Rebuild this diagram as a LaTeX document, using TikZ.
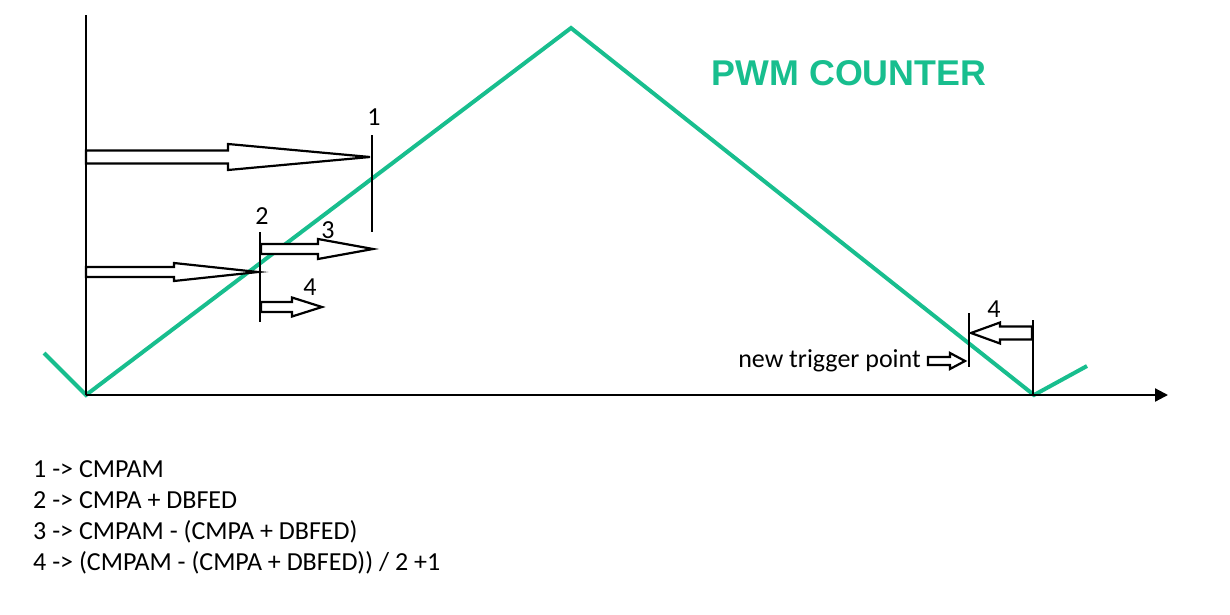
\documentclass[tikz,border=0pt]{standalone}
\usepackage{fontspec}
\setmainfont{Carlito}
\newfontfamily\titlefont{Liberation Sans}
\usepackage{xcolor}
\usepackage{tikz}
\usetikzlibrary{arrows.meta,positioning,calc}

\definecolor{pwmgreen}{RGB}{24,190,142}

% outlined arrow: start x, tip x, y, shaft half width, head half width, head start x
\newcommand{\hollowarrow}[6]{%
  \draw[hollowarr] (#1,{#3-#4}) -- (#6,{#3-#4}) -- (#6,{#3-#5}) -- (#2,#3)
    -- (#6,{#3+#5}) -- (#6,{#3+#4}) -- (#1,{#3+#4}) -- cycle;}

\begin{document}
\begin{tikzpicture}[x=1pt,y=-1pt,
    hollowarr/.style={draw=black,line width=2.2pt,fill=white,line join=miter},
    markline/.style={line width=2.2pt},
    lbl/.style={inner sep=0pt,font=\fontsize{26}{26}\selectfont}]
  \useasboundingbox (0,0) rectangle (1230,615);

  \coordinate (origin) at (86,395);
  \coordinate (ytop) at (86,15);
  \coordinate (xend) at (1168,395);
  \coordinate (pre) at (44,353);
  \coordinate (peak) at (571,28);
  \coordinate (valley) at (1034,395);
  \coordinate (post) at (1087,366);

  % counter
  \draw[pwmgreen,line width=4pt,line join=miter] (pre) -- (origin) -- (peak) -- (valley) -- (post);
  \node[pwmgreen,inner sep=0pt,font=\titlefont\bfseries\fontsize{35.8}{36}\selectfont] (title) at (849,73) {PWM COUNTER};

  % axes
  \draw[line width=2.2pt] (origin) -- (ytop);
  \draw[line width=2.2pt,-{Triangle[length=13pt,width=13pt]}] (origin) -- (xend);

  % compare marks
  \draw[markline] (372,135) -- (372,232);
  \draw[markline] (260,232) -- (260,322);
  \draw[markline] (969,313) -- (969,367);
  \draw[markline] (1033,320) -- (1033,395);

  \hollowarrow{86}{370}{157}{6.5}{13}{228}
  \hollowarrow{86}{258}{272}{5}{9}{174}
  \hollowarrow{261}{373}{249}{5}{10}{318}
  \hollowarrow{261}{322}{307}{5}{9.5}{292}
  \hollowarrow{1032}{971}{333}{6.5}{10.5}{1000}
  \hollowarrow{928}{965}{361}{4}{8}{950}

  \node[lbl] (m1) at (374,117) {1};
  \node[lbl] (m2) at (262,216) {2};
  \node[lbl] (m3) at (328,230) {3};
  \node[lbl] (m4) at (310,287) {4};
  \node[lbl] (m4r) at (994,309) {4};
  \node[lbl,anchor=east] (trig) at (921,361) {new trigger point};

  % legend
  \node[lbl,anchor=base west] (leg1) at (33,477) {1 -> CMPAM};
  \node[lbl,anchor=base west] (leg2) at (33,508) {2 -> CMPA + DBFED};
  \node[lbl,anchor=base west] (leg3) at (33,539) {3 -> CMPAM - (CMPA + DBFED)};
  \node[lbl,anchor=base west] (leg4) at (33,570) {4 -> (CMPAM - (CMPA + DBFED)) / 2 +1};
\end{tikzpicture}
\end{document}
